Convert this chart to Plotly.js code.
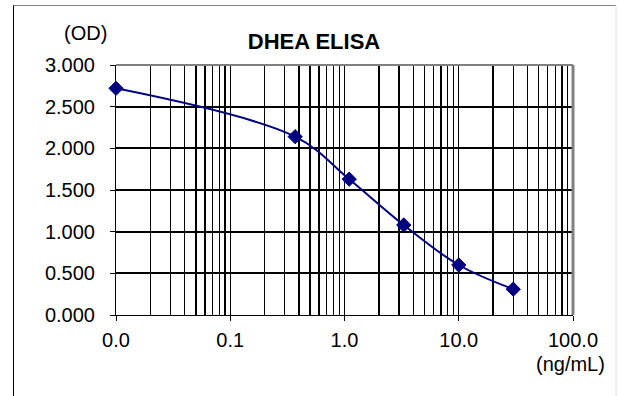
<!DOCTYPE html>
<html>
<head>
<meta charset="utf-8">
<script src="https://cdn.plot.ly/plotly-3.0.1.min.js"></script>
<style>
  html, body { margin: 0; padding: 0; background: #fff; }
  #chart { width: 619px; height: 396px; }
  path.xgrid, path.ygrid { shape-rendering: crispEdges; stroke-opacity: 1 !important; }
</style>
</head>
<body>
<div id="chart"></div>
<script>
// Data
const concentration = [0.01, 0.37, 1.1, 3.3, 10, 30];   // ng/mL (first point is the zero standard, drawn at the "0.0" position)
const od = [2.72, 2.14, 1.63, 1.08, 0.60, 0.31];          // OD
const xTickVals = [0.01, 0.1, 1, 10, 100];
const xTickText = ["0.0", "0.1", "1.0", "10.0", "100.0"];
const yTickVals = [0, 0.5, 1, 1.5, 2, 2.5, 3];
const yTickText = ["0.000", "0.500", "1.000", "1.500", "2.000", "2.500", "3.000"];

const FONT = "Liberation Sans, Arial, sans-serif";
const FS = 20;

const trace = {
  x: concentration,
  y: od,
  type: "scatter",
  mode: "lines+markers",
  line: { color: "#000080", width: 2, shape: "spline", smoothing: 1 },
  marker: { symbol: "diamond", size: 11, color: "#000080", line: { color: "#000080", width: 1 } },
  cliponaxis: false,
  hoverinfo: "x+y"
};

// plot area: l=116, r=573, t=65, b=315 (px)
const L = 116, R = 573, T = 65, B = 315;
const px = v => (v - L) / (R - L);
const py = v => (B - v) / (B - T);

const layout = {
  width: 619,
  height: 396,
  margin: { l: L, r: 619 - R, t: T, b: 396 - B, pad: 0 },
  paper_bgcolor: "#ffffff",
  plot_bgcolor: "#ffffff",
  showlegend: false,
  font: { family: FONT, color: "#000", size: FS },
  title: {
    text: "<b>DHEA ELISA</b>",
    font: { family: FONT, size: 22, color: "#000" },
    x: 314 / 619, xref: "container", xanchor: "center",
    y: 1 - 41 / 396, yref: "container", yanchor: "middle"
  },
  xaxis: {
    type: "log",
    range: [-2, 2],
    tickmode: "array",
    tickvals: xTickVals,
    ticktext: xTickText,
    ticks: "outside",
    ticklen: 5,
    tickcolor: "#000",
    tickwidth: 1,
    ticklabelstandoff: 2,
    showgrid: true,
    gridcolor: "#000",
    gridwidth: 1,
    showline: true,
    linecolor: "#000",
    linewidth: 1,
    zeroline: false,
    minor: { dtick: "D1", showgrid: true, gridcolor: "#000000", gridwidth: 1.3, ticks: "" },
    tickfont: { family: FONT, size: FS, color: "#000" },
    fixedrange: true
  },
  yaxis: {
    range: [0, 3],
    tickmode: "array",
    tickvals: yTickVals,
    ticktext: yTickText,
    ticks: "outside",
    ticklen: 5,
    tickcolor: "#000",
    tickwidth: 1,
    ticklabelstandoff: 11,
    showgrid: true,
    gridcolor: "#000",
    gridwidth: 2,
    showline: true,
    linecolor: "#000",
    linewidth: 1,
    zeroline: false,
    tickfont: { family: FONT, size: FS, color: "#000" },
    fixedrange: true
  },
  shapes: [
    // plot area top and right border (gray)
    { type: "line", xref: "paper", yref: "paper", x0: 0, x1: 1, y0: 1, y1: 1, line: { color: "#808080", width: 2 } },
    { type: "line", xref: "paper", yref: "paper", x0: 1, x1: 1, y0: 0, y1: 1, line: { color: "#808080", width: 3 } },
    // outer chart frame
    { type: "line", xref: "paper", yref: "paper", x0: px(13.5), x1: px(13.5), y0: py(5), y1: py(400), line: { color: "#000", width: 1 } },
    { type: "line", xref: "paper", yref: "paper", x0: px(13.5), x1: px(616), y0: py(5.5), y1: py(5.5), line: { color: "#808080", width: 1 } },
    { type: "line", xref: "paper", yref: "paper", x0: px(616), x1: px(616), y0: py(5.5), y1: py(400), line: { color: "#e0e0e0", width: 1 } }
  ],
  annotations: [
    { text: "(OD)", xref: "paper", yref: "paper", x: px(85), y: py(33), xanchor: "center", yanchor: "middle", showarrow: false, font: { family: FONT, size: FS, color: "#000" } },
    { text: "(ng/mL)", xref: "paper", yref: "paper", x: px(570), y: py(364), xanchor: "center", yanchor: "middle", showarrow: false, font: { family: FONT, size: FS, color: "#000" } }
  ]
};

Plotly.newPlot("chart", [trace], layout, { displayModeBar: false, staticPlot: true });
</script>
</body>
</html>
